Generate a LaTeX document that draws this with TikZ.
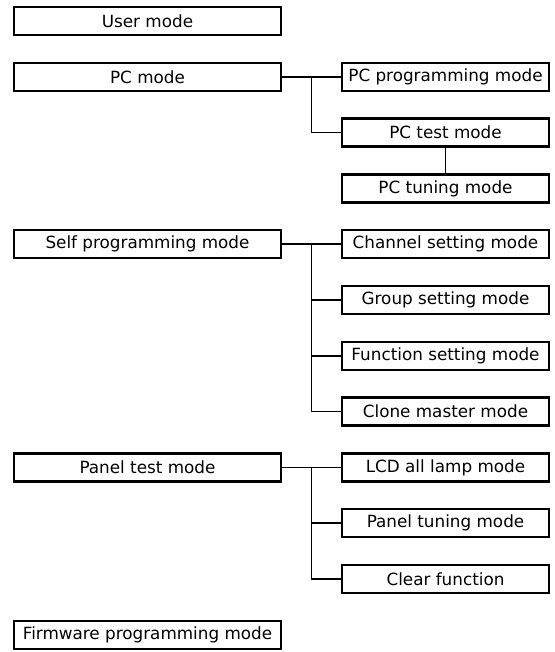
\documentclass[tikz,border=0pt]{standalone}
\usepackage{fontspec}
\setmainfont{DejaVu Sans}
\usetikzlibrary{calc}

\begin{document}
\begin{tikzpicture}[x=0.75pt,y=-0.75pt,
	modebox/.style={draw,line width=1.8pt,inner sep=0pt,minimum height=21pt,font=\fontsize{12.6}{14}\selectfont},
	mainbox/.style={modebox,minimum width=200pt},
	subbox/.style={modebox,minimum width=155pt},
	link/.style={line width=1.3pt}]
\useasboundingbox (0,0) rectangle (555,652);

% left column
\foreach \name/\row/\txt in {user/0/User mode,pc/1/PC mode,self/4/Self programming mode,panel/8/Panel test mode,fw/11/Firmware programming mode}
	\node[mainbox] (\name) at (147.5,{21+55.8*\row}) {\txt};

% right column
\foreach \name/\row/\txt in {pcprog/1/PC programming mode,pctest/2/PC test mode,pctune/3/PC tuning mode,
	chan/4/Channel setting mode,grp/5/Group setting mode,func/6/Function setting mode,clone/7/Clone master mode,
	lcd/8/LCD all lamp mode,ptune/9/Panel tuning mode,clear/10/Clear function}
	\node[subbox] (\name) at (445.5,{21+55.8*\row}) {\txt};

% branches
\coordinate (pcj) at ($(pc.east)!.5!(pcprog.west)$);
\coordinate (selfj) at ($(self.east)!.5!(chan.west)$);
\coordinate (panelj) at ($(panel.east)!.5!(lcd.west)$);

\draw [link] (pc.east) to (pcprog.west);
\draw [link] (pcj) |- (pctest.west);
\draw [link] (pctest.south) to (pctune.north);

\draw [link] (self.east) to (chan.west);
\foreach \n in {grp,func,clone}
	\draw [link] (selfj) |- (\n.west);

\draw [link] (panel.east) to (lcd.west);
\foreach \n in {ptune,clear}
	\draw [link] (panelj) |- (\n.west);
\end{tikzpicture}
\end{document}
